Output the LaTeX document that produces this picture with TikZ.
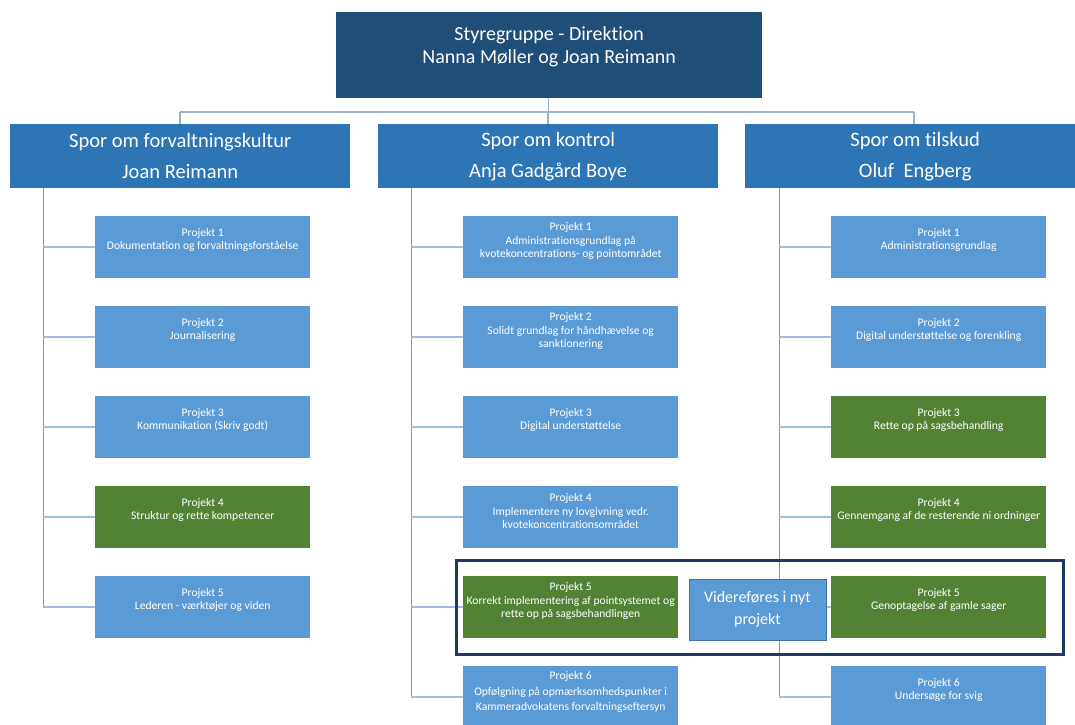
\documentclass[tikz,border=0pt]{standalone}
\usepackage{fontspec}
\setmainfont[Ligatures=NoCommon]{Carlito}
\definecolor{topblue}{HTML}{1F4E79}
\definecolor{trackblue}{HTML}{2E75B6}
\definecolor{projblue}{HTML}{5B9BD5}
\definecolor{projgreen}{HTML}{548235}
\definecolor{navy}{HTML}{1F3864}
\definecolor{vline}{HTML}{6A9BD2}
\definecolor{hline}{HTML}{9DBDE2}
\definecolor{vborder}{HTML}{41719C}
\tikzset{
  box/.style={rectangle, inner sep=0pt, anchor=north west, text=white, align=center},
  topbox/.style={box, fill=topblue, minimum width=426pt, minimum height=86pt},
  trackbox/.style={box, fill=trackblue, minimum width=340pt, minimum height=64pt, font=\fontsize{20.5}{31}\selectfont},
  pbox/.style={box, fill=#1, minimum width=215pt, minimum height=62pt},
  ptext/.style={anchor=center, text=white, align=center, inner sep=0pt, font=\fontsize{11.6}{13.5}\selectfont},
  vconn/.style={draw=vline, line width=1pt},
  hconn/.style={draw=hline, line width=1.6pt},
  topconn/.style={draw=hline!80!gray, line width=1.6pt},
}
\begin{document}
\begin{tikzpicture}[x=1pt,y=-1pt]
\clip (0,0) rectangle (1075,724);
\fill[white] (0,0) rectangle (1075,724);

% top
\node[topbox] (top) at (336,12) {};
\node[ptext, font=\fontsize{20}{23.5}\selectfont] (toptext) at ([yshift=8.5pt]top.center) {Styregruppe - Direktion\\Nanna Møller og Joan Reimann};

% tracks
\node[trackbox] (tA) at (10,124) {Spor om forvaltningskultur\\Joan Reimann};
\node[trackbox] (tB) at (378,124) {Spor om kontrol\\Anja Gadgård Boye};
\node[trackbox] (tC) at (745,124) {Spor om tilskud\\Oluf\ \ Engberg};

% top connectors
\coordinate (hub) at (548.5,112);
\coordinate (hubL) at (180,112);
\coordinate (hubR) at (914,112);
\draw[topconn] (top.south -| hub) -- (hub);
\draw[topconn] (hubL) -- (hubR);
\draw[topconn] (hubL) -- (hubL |- tA.north);
\draw[topconn] (tB.north |- hub) -- (tB.north);
\draw[topconn] (hubR) -- (hubR |- tC.north);

% project boxes: left column
\node[pbox=projblue]  (A1) at (95,216) {};
\node[pbox=projblue]  (A2) at (95,306) {};
\node[pbox=projblue]  (A3) at (95,396) {};
\node[pbox=projgreen] (A4) at (95,486) {};
\node[pbox=projblue]  (A5) at (95,576) {};
% middle column
\node[pbox=projblue]  (B1) at (463,216) {};
\node[pbox=projblue]  (B2) at (463,306) {};
\node[pbox=projblue]  (B3) at (463,396) {};
\node[pbox=projblue]  (B4) at (463,486) {};
\node[pbox=projgreen] (B5) at (463,576) {};
\node[pbox=projblue]  (B6) at (463,666) {};
% right column
\node[pbox=projblue]  (C1) at (831,216) {};
\node[pbox=projblue]  (C2) at (831,306) {};
\node[pbox=projgreen] (C3) at (831,396) {};
\node[pbox=projgreen] (C4) at (831,486) {};
\node[pbox=projgreen] (C5) at (831,576) {};
\node[pbox=projblue]  (C6) at (831,666) {};

% connectors from tracks to projects
\coordinate (vA) at (43,0);
\coordinate (vB) at (411,0);
\coordinate (vC) at (779,0);
\draw[vconn] (vA |- tA.south) -- (vA |- A5.west);
\draw[vconn] (vB |- tB.south) -- (vB |- B6.west);
\draw[vconn] (vC |- tC.south) -- (vC |- C6.west);
\foreach \n in {A1,A2,A3,A4,A5} \draw[hconn] (vA |- \n.west) -- (\n.west);
\foreach \n in {B1,B2,B3,B4,B5,B6} \draw[hconn] (vB |- \n.west) -- (\n.west);
\foreach \n in {C1,C2,C3,C4,C5,C6} \draw[hconn] (vC |- \n.west) -- (\n.west);

% texts
\node[ptext] (A1t) at ([yshift=7pt]A1.center) {Projekt 1\\Dokumentation og forvaltningsforståelse};
\node[ptext] (A2t) at ([yshift=7pt]A2.center) {Projekt 2\\Journalisering};
\node[ptext] (A3t) at ([yshift=7pt]A3.center) {Projekt 3\\Kommunikation (Skriv godt)};
\node[ptext] (A4t) at ([yshift=7pt]A4.center) {Projekt 4\\Struktur og rette kompetencer};
\node[ptext] (A5t) at ([yshift=7pt]A5.center) {Projekt 5\\Lederen - værktøjer og viden};

\node[ptext] (B1t) at ([yshift=6pt]B1.center) {Projekt 1\\Administrationsgrundlag på\\kvotekoncentrations- og pointområdet};
\node[ptext] (B2t) at ([yshift=6pt]B2.center) {Projekt 2\\Solidt grundlag for håndhævelse og\\sanktionering};
\node[ptext] (B3t) at ([yshift=7pt]B3.center) {Projekt 3\\Digital understøttelse};
\node[ptext] (B4t) at ([yshift=6pt]B4.center) {Projekt 4\\Implementere ny lovgivning vedr.\\kvotekoncentrationsområdet};
\node[ptext] (B5t) at ([yshift=6pt]B5.center) {Projekt 5\\Korrekt implementering af pointsystemet og\\rette op på sagsbehandlingen};
\node[ptext, font=\fontsize{11.6}{15.5}\selectfont] (B6t) at ([yshift=5pt]B6.center) {Projekt 6\\Opfølgning på opmærksomhedspunkter i\\Kammeradvokatens forvaltningseftersyn};

\node[ptext] (C1t) at ([yshift=7pt]C1.center) {Projekt 1\\Administrationsgrundlag};
\node[ptext] (C2t) at ([yshift=7pt]C2.center) {Projekt 2\\Digital understøttelse og forenkling};
\node[ptext] (C3t) at ([yshift=7pt]C3.center) {Projekt 3\\Rette op på sagsbehandling};
\node[ptext] (C4t) at ([yshift=7pt]C4.center) {Projekt 4\\Gennemgang af de resterende ni ordninger};
\node[ptext] (C5t) at ([yshift=7pt]C5.center) {Projekt 5\\Genoptagelse af gamle sager};
\node[ptext] (C6t) at ([yshift=7pt]C6.center) {Projekt 6\\Undersøge for svig};

% highlight frame and note box
\node[rectangle, draw=navy, line width=2.6pt, minimum width=607pt, minimum height=94pt, anchor=north west, inner sep=0pt] (frame) at (455,559) {};
\node[box, fill=projblue, draw=vborder, line width=0.8pt, minimum width=137pt, minimum height=61pt, font=\fontsize{16}{22}\selectfont] (note) at (688.5,578.5) {Videreføres i nyt\\projekt};
\end{tikzpicture}
\end{document}
